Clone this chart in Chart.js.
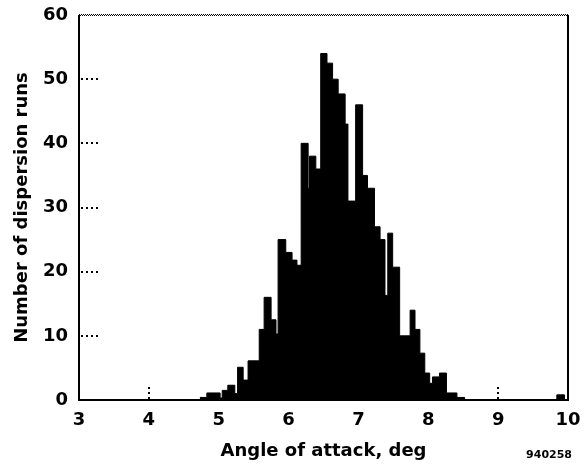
<!DOCTYPE html>
<html>
<head>
<meta charset="utf-8">
<title>Angle of attack dispersion</title>
<script src="https://cdn.jsdelivr.net/npm/chart.js@4.4.1/dist/chart.umd.min.js"></script>
<style>
  html, body { margin: 0; padding: 0; background: #fff; }
  #wrap { width: 584px; height: 465px; position: relative; }
</style>
</head>
<body>
<div id="wrap"><canvas id="histChart"></canvas></div>
<script>
"use strict";

/* ---------- data: histogram bins (deg) and run counts ---------- */

const binEdges = [
  4.73, 4.83, 5.02, 5.05, 5.13, 5.23, 5.27, 5.35, 5.42, 5.58,
  5.65, 5.75, 5.82, 5.85, 5.96, 6.05, 6.12, 6.18, 6.28, 6.30,
  6.39, 6.46, 6.55, 6.63, 6.71, 6.81, 6.85, 6.96, 7.06, 7.13,
  7.23, 7.31, 7.38, 7.42, 7.49, 7.59, 7.74, 7.81, 7.88, 7.95,
  8.02, 8.06, 8.16, 8.26, 8.41, 8.52, 9.84, 9.95
];

const runCounts = [
  0.4, 1.1, 0.3, 1.5, 2.3, 1.0, 5.1, 3.1, 6.1, 11,
  16, 12.5, 10.3, 25, 23, 21.8, 21, 40, 33, 38,
  36, 54, 52.5, 50, 47.7, 43, 31, 46, 35, 33,
  27, 25, 16.3, 26, 20.7, 10, 14, 11, 7.3, 4.2,
  2.6, 3.6, 4.2, 1.1, 0.4, 0, 0.8
];

const xTickMarks = [4, 9];
const yTickMarks = [10, 20, 30, 40, 50];
const figureNumber = "940258";

/* ---------- chart ---------- */

const FONT = "'DejaVu Sans', Verdana, sans-serif";

// stepped outline: each point opens a bin, the last edge closes it
const points = binEdges.map((x, i) => ({ x: x, y: i < runCounts.length ? runCounts[i] : 0 }));

const framePlugin = {
  id: "frame",
  beforeDatasetsDraw(chart) {
    const { ctx, chartArea: a, scales: { x, y } } = chart;
    ctx.save();
    ctx.strokeStyle = "#000";
    ctx.lineWidth = 2;
    ctx.setLineDash([2, 3]);
    // dotted tick marks pointing into the plot
    yTickMarks.forEach(v => {
      const py = Math.round(y.getPixelForValue(v));
      ctx.beginPath();
      ctx.moveTo(a.left + 2, py);
      ctx.lineTo(a.left + 20, py);
      ctx.stroke();
    });
    xTickMarks.forEach(v => {
      const px = Math.round(x.getPixelForValue(v));
      ctx.beginPath();
      ctx.moveTo(px, a.bottom - 1);
      ctx.lineTo(px, a.bottom - 16);
      ctx.stroke();
    });
    ctx.restore();
  },
  afterDatasetsDraw(chart) {
    const { ctx, chartArea: a } = chart;
    ctx.save();
    ctx.strokeStyle = "#000";
    ctx.lineWidth = 2;
    ctx.beginPath();
    ctx.moveTo(a.left, a.top);
    ctx.lineTo(a.left, a.bottom);
    ctx.lineTo(a.right, a.bottom);
    ctx.lineTo(a.right, a.top);
    ctx.stroke();
    // hatched top edge
    ctx.lineWidth = 1;
    ctx.setLineDash([1, 1]);
    ctx.beginPath();
    ctx.moveTo(a.left, a.top - 0.5);
    ctx.lineTo(a.right, a.top - 0.5);
    ctx.stroke();
    ctx.lineDashOffset = 1;
    ctx.beginPath();
    ctx.moveTo(a.left, a.top + 0.5);
    ctx.lineTo(a.right, a.top + 0.5);
    ctx.stroke();
    ctx.restore();

    ctx.save();
    ctx.fillStyle = "#000";
    ctx.font = "bold 11px " + FONT;
    ctx.textAlign = "right";
    ctx.textBaseline = "middle";
    ctx.fillText(figureNumber, 572, 455);
    ctx.restore();
  }
};

new Chart(document.getElementById("histChart"), {
  type: "line",
  data: {
    datasets: [{
      data: points,
      stepped: "before",
      fill: "origin",
      backgroundColor: "#000",
      borderColor: "#000",
      borderWidth: 1,
      pointRadius: 0
    }]
  },
  options: {
    responsive: true,
    maintainAspectRatio: false,
    animation: false,
    layout: { padding: { top: 15, right: 16, left: 0, bottom: 0 } },
    plugins: { legend: { display: false }, tooltip: { enabled: false } },
    scales: {
      x: {
        type: "linear",
        min: 3,
        max: 10,
        // fixed axis band; end labels may hang into the margins
        afterFit: s => { s.height = 65; s.paddingLeft = 0; s.paddingRight = 0; },
        grid: { display: false, drawTicks: false },
        border: { display: false },
        ticks: {
          stepSize: 1,
          padding: 10,
          color: "#000",
          font: { family: FONT, size: 18, weight: "bold" }
        },
        title: {
          display: true,
          text: "Angle of attack, deg",
          color: "#000",
          padding: { top: 3, bottom: 3 },
          font: { family: FONT, size: 18, weight: "bold", lineHeight: 1.2 }
        }
      },
      y: {
        min: 0,
        max: 60,
        afterFit: s => { s.width = 79; s.paddingTop = 0; s.paddingBottom = 0; },
        grid: { display: false, drawTicks: false },
        border: { display: false },
        ticks: {
          stepSize: 10,
          padding: 11,
          color: "#000",
          font: { family: FONT, size: 18, weight: "bold" }
        },
        title: {
          display: true,
          text: "Number of dispersion runs",
          color: "#000",
          padding: { top: 12, bottom: 0 },
          font: { family: FONT, size: 18, weight: "bold", lineHeight: 1.2 }
        }
      }
    }
  },
  plugins: [framePlugin]
});
</script>
</body>
</html>
